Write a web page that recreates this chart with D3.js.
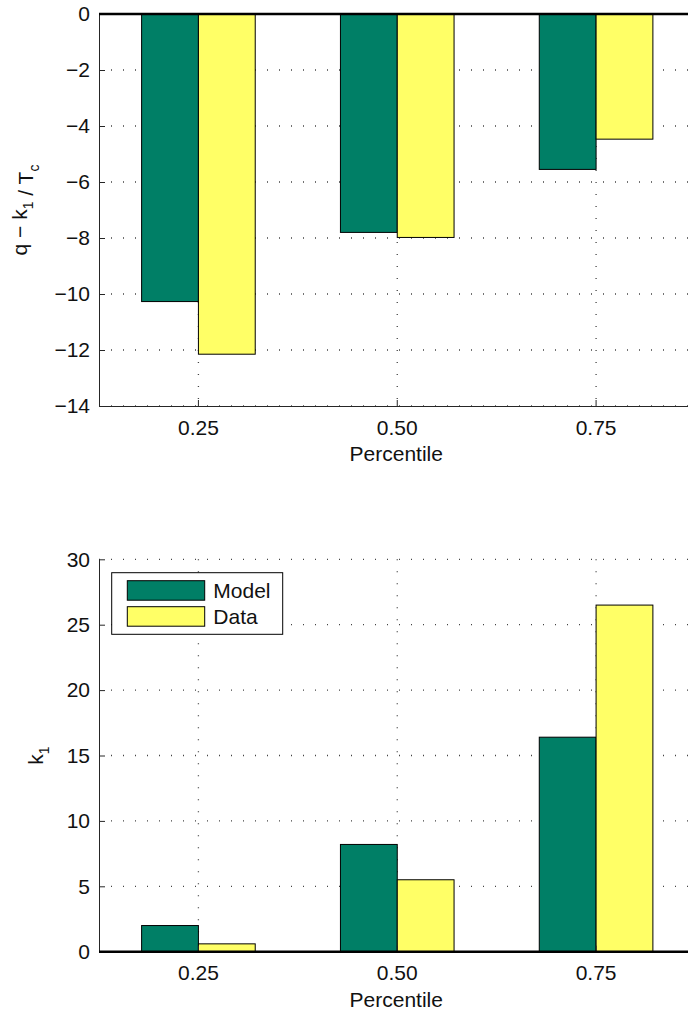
<!DOCTYPE html>
<html>
<head>
<meta charset="utf-8">
<script src="https://cdn.jsdelivr.net/npm/d3@7"></script>
<style>
  body { margin: 0; background: #fff; }
  svg { display: block; font-family: "Liberation Sans", Arial, Helvetica, sans-serif; }
  .axis path, .axis line { stroke: #262626; }
  .axis text { font-size: 21px; fill: #111; }
  .grid line { stroke: #444; stroke-width: 1.3; stroke-dasharray: 1,11; }
</style>
</head>
<body>
<div id="chart"></div>
<script>
// data
const percentiles = ["0.25", "0.50", "0.75"]
const series = ["Model", "Data"]
const topModel = [-10.27, -7.8, -5.55]
const topData = [-12.15, -7.98, -4.47]
const bottomModel = [2.0, 8.2, 16.4]
const bottomData = [0.6, 5.5, 26.5]
const topTicks = [0, -2, -4, -6, -8, -10, -12, -14]
const bottomTicks = [0, 5, 10, 15, 20, 25, 30]

const colors = {Model: "#007f66", Data: "#ffff66"}

const w = 688
const h = 1019
const left = 99
const right = 695.5   // axes run past the window edge, like the original

const svg = d3.select("#chart")
    .append("svg")
    .attr("width", w)
    .attr("height", h)

// group scale: 3 slots, each bar group 0.5714 of a slot
const x0 = d3.scaleBand()
    .domain(percentiles)
    .range([left, right])
    .paddingInner(0.4286)
    .paddingOuter(0.2143)
const x1 = d3.scaleBand()
    .domain(series)
    .range([0, x0.bandwidth()])

function drawPanel(top, bottom, domain, ticks, model, data, ylabel, labelX, legend) {
    const y = d3.scaleLinear().domain(domain).range([bottom, top])
    const g = svg.append("g")

    // grid lines
    const grid = g.append("g").attr("class", "grid")
    grid.selectAll(".hg")
        .data(ticks)
        .enter().append("line")
        .attr("x1", left).attr("x2", right)
        .attr("y1", d => y(d)).attr("y2", d => y(d))
    grid.selectAll(".vg")
        .data(percentiles)
        .enter().append("line")
        .attr("x1", d => x0(d) + x0.bandwidth() / 2)
        .attr("x2", d => x0(d) + x0.bandwidth() / 2)
        .attr("y1", top).attr("y2", bottom)

    // bars
    const rows = percentiles.map((p, i) => ({p: p, Model: model[i], Data: data[i]}))
    g.selectAll(".grp")
        .data(rows)
        .enter().append("g")
        .attr("transform", d => "translate(" + x0(d.p) + ",0)")
        .selectAll("rect")
        .data(d => series.map(s => ({s: s, v: d[s]})))
        .enter().append("rect")
        .attr("x", d => x1(d.s))
        .attr("width", x1.bandwidth())
        .attr("y", d => y(Math.max(0, d.v)))
        .attr("height", d => Math.abs(y(d.v) - y(0)))
        .attr("fill", d => colors[d.s])
        .attr("stroke", "#000")
        .attr("stroke-width", 1)

    // axes
    g.append("g")
        .attr("class", "axis")
        .attr("transform", "translate(" + left + ",0)")
        .call(d3.axisLeft(y).tickValues(ticks).tickFormat(d3.format("d")).tickSizeInner(-6).tickSizeOuter(0).tickPadding(9))
    g.append("g")
        .attr("class", "axis")
        .attr("transform", "translate(0," + bottom + ")")
        .call(d3.axisBottom(x0).tickSizeInner(-6).tickSizeOuter(0).tickPadding(13.5))
        .call(a => a.selectAll(".tick text").attr("dy", "0.72em"))

    // baseline at zero
    g.append("line")
        .attr("x1", left).attr("x2", right)
        .attr("y1", y(0)).attr("y2", y(0))
        .attr("stroke", "#000")
        .attr("stroke-width", 2.5)

    // x label
    g.append("text")
        .attr("x", (left + right) / 2 - 1)
        .attr("y", bottom + 55)
        .attr("text-anchor", "middle")
        .attr("font-size", 21)
        .attr("fill", "#111")
        .text("Percentile")

    // y label
    const yl = g.append("text")
        .attr("transform", "translate(" + labelX + "," + ((top + bottom) / 2) + ") rotate(-90)")
        .attr("text-anchor", "middle")
        .attr("font-size", 21)
        .attr("fill", "#111")
    ylabel.forEach(part => {
        if (part.sub) {
            yl.append("tspan").attr("font-size", 14).attr("dy", 6).text(part.t)
            yl.append("tspan").attr("dy", -6).text("")
        } else {
            yl.append("tspan").text(part.t)
        }
    })

    if (legend) {
        const lg = g.append("g")
        lg.append("rect")
            .attr("x", 111.7).attr("y", 572.7)
            .attr("width", 171).attr("height", 61.6)
            .attr("fill", "#fff").attr("stroke", "#000").attr("stroke-width", 1)
        series.forEach((s, i) => {
            lg.append("rect")
                .attr("x", 127.3).attr("y", 580.7 + i * 26)
                .attr("width", 77.4).attr("height", 19.5)
                .attr("fill", colors[s]).attr("stroke", "#000").attr("stroke-width", 1)
            lg.append("text")
                .attr("x", 213.3).attr("y", 590.5 + i * 26)
                .attr("dy", "0.36em")
                .attr("font-size", 21)
                .attr("fill", "#111")
                .text(s)
        })
    }
}

drawPanel(14, 406, [-14, 0], topTicks, topModel, topData,
    [{t: "q \u2212 k"}, {t: "1", sub: true}, {t: " / T"}, {t: "c", sub: true}], 27, false)
drawPanel(559.3, 951.7, [0, 30], bottomTicks, bottomModel, bottomData,
    [{t: "k"}, {t: "1", sub: true}], 43, true)
</script>
</body>
</html>
